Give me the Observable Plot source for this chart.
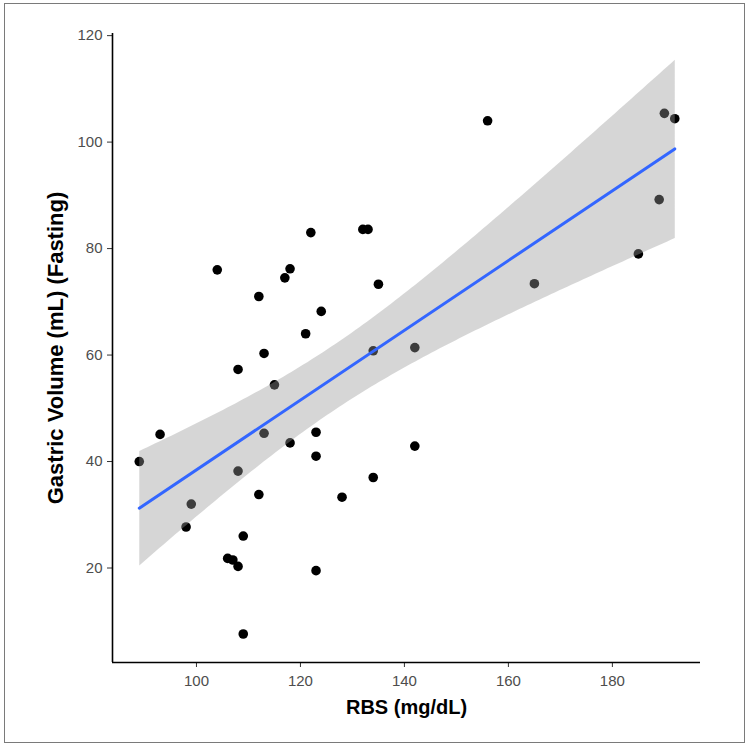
<!DOCTYPE html>
<html>
<head>
<meta charset="utf-8">
<script src="https://cdn.jsdelivr.net/npm/d3@7"></script>
<script src="https://cdn.jsdelivr.net/npm/@observablehq/plot@0.6"></script>
<style>
  html, body { margin: 0; padding: 0; background: #fff; }
  #wrap { position: relative; width: 750px; height: 747px; }
  #frame { position: absolute; left: 4px; top: 3px; width: 739px; height: 738px; border: 1.5px solid #7a7a7a; pointer-events: none; }
</style>
</head>
<body>
<div id="wrap"><div id="frame"></div></div>
<script>
const rbs = [89, 93, 98, 99, 104, 106, 107, 108, 108, 108, 109, 109, 112, 112, 113, 113, 115, 117, 118, 118,
             121, 122, 123, 123, 123, 124, 128, 132, 133, 134, 134, 135, 142, 142, 156, 165, 185, 189, 190, 192];
const volume = [40, 45.1, 27.7, 32, 76, 21.8, 21.5, 20.3, 38.2, 57.3, 26, 7.6, 71, 33.8, 60.3, 45.3, 54.4, 74.5, 76.2, 43.5,
                64, 83, 45.5, 41, 19.5, 68.2, 33.3, 83.6, 83.6, 60.8, 37, 73.3, 61.4, 42.9, 104, 73.4, 79, 89.2, 105.4, 104.4];
const xTicks = [100, 120, 140, 160, 180];
const yTicks = [20, 40, 60, 80, 100, 120];
const xTitle = "RBS (mg/dL)";
const yTitle = "Gastric Volume (mL) (Fasting)";

const data = rbs.map((x, i) => ({x, y: volume[i]}));
const xDomain = [83.85, 196.95];
const yDomain = [2.25, 120.4];
const font = "'Liberation Sans', Arial, sans-serif";

const chart = Plot.plot({
  width: 750,
  height: 747,
  marginLeft: 112,
  marginRight: 50,
  marginTop: 33,
  marginBottom: 85,
  style: {fontFamily: font, fontSize: "15px", background: "transparent"},
  x: {domain: xDomain},
  y: {domain: yDomain},
  marks: [
    Plot.dot(data, {x: "x", y: "y", r: 4.8, fill: "black", stroke: "none"}),
    Plot.linearRegressionY(data, {x: "x", y: "y", ci: 0.95, stroke: "#3366FF", strokeWidth: 3, fill: "#999999", fillOpacity: 0.4}),
    Plot.axisX(xTicks, {tickSize: 5, tickPadding: 8, stroke: "#333", fill: "#4d4d4d", label: null, fontSize: 15}),
    Plot.axisY(yTicks, {tickSize: 5, tickPadding: 5, stroke: "#333", fill: "#4d4d4d", label: null, fontSize: 15}),
    Plot.ruleY([yDomain[0]], {stroke: "black", strokeWidth: 1.6}),
    Plot.ruleX([xDomain[0]], {stroke: "black", strokeWidth: 1.6}),
    Plot.text([xTitle], {frameAnchor: "bottom", dy: 51, fontWeight: "bold", fontSize: 20, fill: "black"}),
    Plot.text([yTitle], {frameAnchor: "left", textAnchor: "middle", dx: -57, rotate: -90, fontWeight: "bold", fontSize: 22, fill: "black"})
  ]
});
document.getElementById("wrap").prepend(chart);
</script>
</body>
</html>
